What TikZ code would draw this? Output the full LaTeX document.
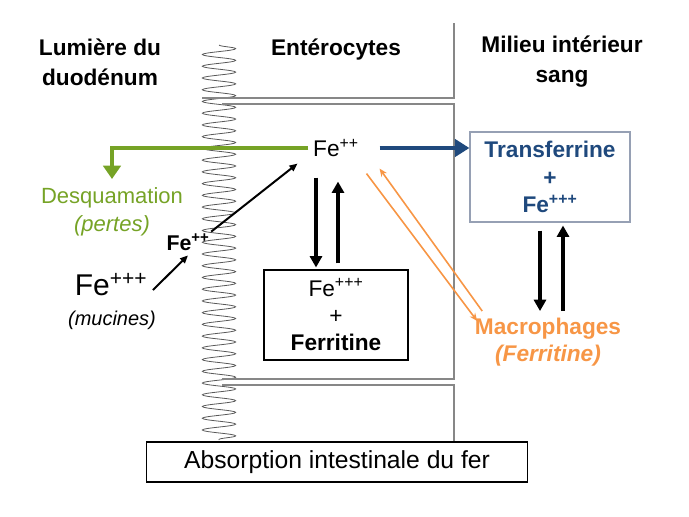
\documentclass[tikz,border=0pt]{standalone}
\usepackage{fontspec}
\setmainfont{Liberation Sans}
\usetikzlibrary{arrows.meta,calc,decorations.pathmorphing}
\definecolor{desqgreen}{RGB}{118,163,38}
\definecolor{transblue}{RGB}{31,73,125}
\definecolor{macroorange}{RGB}{247,150,70}
\definecolor{cellgray}{RGB}{135,135,135}
\definecolor{boxgray}{RGB}{150,160,180}

\begin{document}
\begin{tikzpicture}[x=0.75pt,y=-0.75pt,
  txt/.style={font=\fontsize{17}{20.5}\selectfont,align=center},
  hdr/.style={font=\bfseries\fontsize{17}{22.5}\selectfont,align=center},
  bigarrow/.style={line width=2.6pt,-{Triangle[width=9pt,length=8.5pt]}},
  thinarrow/.style={line width=1.5pt,-{Triangle[width=5pt,length=6pt]}},
  orangearrow/.style={macroorange,line width=1.2pt,-{Stealth[width=5pt,length=6pt]}},
  cellwall/.style={cellgray,line width=1.2pt}]
\useasboundingbox (0,0) rectangle (689,517);

% microvillosites et cellules
\draw[black!65,line width=0.6pt,decorate,decoration={snake,amplitude=12.5pt,segment length=8.8pt}] (219,45) -- (219,440);
\draw[cellwall] (202,98) -- (454,98) -- (454,23);
\draw[cellwall] (222,104) -- (454,104) -- (454,379) -- (222,379);
\draw[cellwall] (222,385) -- (454,385) -- (454,442);

% titres
\node[hdr] (lum) at (100,62) {Lumière du\\duodénum};
\node[hdr] (ent) at (336,50) {Entérocytes};
\node[hdr] (mil) at (562,62) {Milieu intérieur\\sang};

% fer
\node[txt] (fe2) at (336,148) {Fe\textsuperscript{++}};
\node[txt,draw,line width=0.8pt,minimum width=108pt,minimum height=67.5pt] (ferr) at (336,315) {Fe\textsuperscript{+++}\\+\\\textbf{Ferritine}};
\node[txt,draw=boxgray,line width=0.8pt,text=transblue,font=\bfseries\fontsize{17}{20.5}\selectfont,minimum width=120pt,minimum height=67.5pt] (transf) at (550,177) {Transferrine\\+\\Fe\textsuperscript{+++}};
\node[txt,text=macroorange,font=\bfseries\fontsize{17}{20.5}\selectfont] (macro) at (548,342) {Macrophages\\\textit{(Ferritine)}};
\node[txt,text=desqgreen,font=\fontsize{16.5}{21}\selectfont] (desq) at (112,212) {Desquamation\\\textit{(pertes)}};
\node[font=\fontsize{22.5}{27}\selectfont] (fe3) at (111,285) {Fe\textsuperscript{+++}};
\node[font=\itshape\fontsize{15}{18}\selectfont] (muc) at (112,320) {(mucines)};
\node[font=\bfseries\fontsize{16}{19}\selectfont] (fe2b) at (188,242) {Fe\textsuperscript{++}};
\node[draw,line width=0.9pt,minimum width=285.75pt,minimum height=30pt,font=\fontsize{18.5}{22}\selectfont] (abs) at (337,462) {Absorption intestinale du fer};

% fleches
\draw[desqgreen,line width=3pt,-{Triangle[width=13pt,length=10pt]}] (fe2.west) -| ($(desq.north)+(0,-4)$);
\draw[transblue,line width=3pt,-{Triangle[width=13pt,length=11pt]}] ([xshift=12pt]fe2.east) -- (fe2.east -| transf.west);
\draw[thinarrow] ($(fe3.east)+(1,5)$) -- (fe2b.south);
\draw[thinarrow] ($(fe2b.north east)+(-3,3)$) -- ($(fe2.south west)+(-11,2)$);
\draw[bigarrow] ($(fe2.south)+(-20,16)$) -- ($(ferr.north)+(-20,-2)$);
\draw[bigarrow] ($(ferr.north)+(2,-6)$) -- ($(fe2.south)+(2,20)$);
\draw[orangearrow] ($(fe2.south east)+(3,12)$) -- ($(macro.north west)+(7,8)$);
\draw[orangearrow] ($(macro.north west)+(12,-2)$) -- ($(fe2.south east)+(16,7)$);
\draw[bigarrow] ($(transf.south)+(-10,8)$) -- ($(macro.north)+(-8,-2)$);
\draw[bigarrow] ($(macro.north)+(15,-2)$) -- ($(transf.south)+(13,3)$);
\end{tikzpicture}
\end{document}
